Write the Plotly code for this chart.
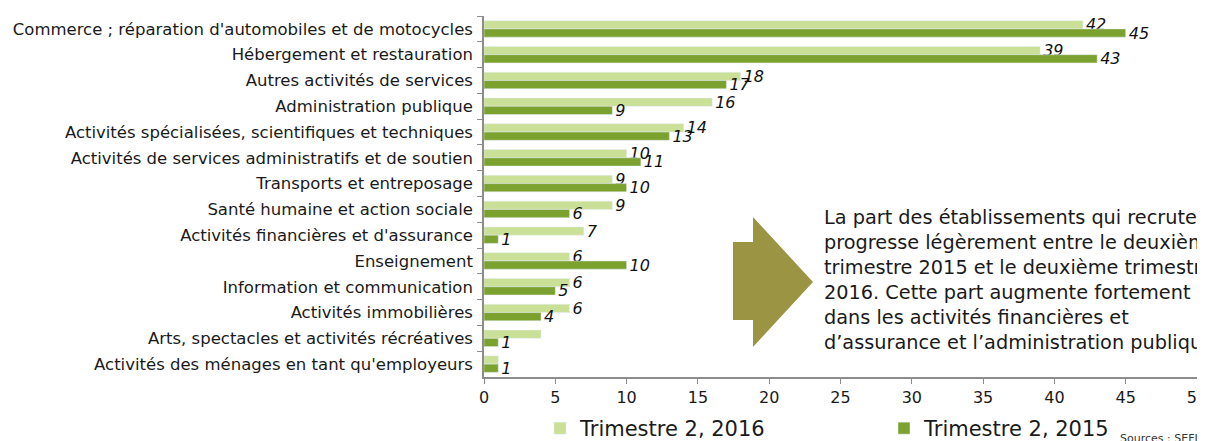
import plotly.graph_objects as go

FONT = "DejaVu Sans, Verdana, sans-serif"
LIGHT = "#C9E096"
DARK = "#7BA22F"
ARROW = "#9A9443"

categories = [
    "Commerce ; réparation d'automobiles et de motocycles",
    "Hébergement et restauration",
    "Autres activités de services",
    "Administration publique",
    "Activités spécialisées, scientifiques et techniques",
    "Activités de services administratifs et de soutien",
    "Transports et entreposage",
    "Santé humaine et action sociale",
    "Activités financières et d'assurance",
    "Enseignement",
    "Information et communication",
    "Activités immobilières",
    "Arts, spectacles et activités récréatives",
    "Activités des ménages en tant qu'employeurs",
]
t2_2016 = [42, 39, 18, 16, 14, 10, 9, 9, 7, 6, 6, 6, 4, 1]
t2_2015 = [45, 43, 17, 9, 13, 11, 10, 6, 1, 10, 5, 4, 1, 1]
# the two smallest 2016 bars carry no label in the original
labels_2016 = [str(v) for v in t2_2016[:-2]] + ["", ""]
labels_2015 = [str(v) for v in t2_2015]
x_ticks = list(range(0, 51, 5))

# the page body has an 8px margin, so the figure starts at (8, 8) in the window
OFF = 8
W, H = 1205 - OFF, 441 - OFF
L, R, T, B = 484 - OFF, 8, 16 - OFF, 64
PW, PH = W - L - R, H - T - B


def px(x):
    return (x - OFF - L) / PW


def py(y):
    return (H - B - (y - OFF)) / PH


fig = go.Figure()
for name, vals, labels, color in [
    ("Trimestre 2, 2016", t2_2016, labels_2016, LIGHT),
    ("Trimestre 2, 2015", t2_2015, labels_2015, DARK),
]:
    fig.add_trace(go.Bar(
        name=name,
        y=categories, x=vals, orientation="h",
        marker_color=color,
        text=labels, textposition="outside", constraintext="none",
        textfont=dict(family=FONT, size=16, color="#111111", style="italic"),
        cliponaxis=False,
    ))

# arrow pointing to the comment
pts = [(733, 242), (753, 242), (753, 217), (813, 282), (753, 347), (753, 320), (733, 320)]
path = "M " + " L ".join(f"{px(a):.4f},{py(b):.4f}" for a, b in pts) + " Z"
fig.add_shape(type="path", path=path, xref="paper", yref="paper",
              fillcolor=ARROW, line=dict(width=0))

comment = ("La part des établissements qui recrutent<br>"
           "progresse légèrement entre le deuxième<br>"
           "trimestre 2015 et le deuxième trimestre<br>"
           "2016. Cette part augmente fortement<br>"
           "dans les activités financières et<br>"
           "d’assurance et l’administration publique")
fig.add_annotation(text=comment, xref="paper", yref="paper",
                   x=px(822), y=py(204), xanchor="left", yanchor="top",
                   align="left", showarrow=False,
                   font=dict(family=FONT, size=19.3, color="#1a1a1a"))
fig.add_annotation(text="Sources : SEFI", xref="paper", yref="paper",
                   x=px(1118), y=py(430), xanchor="left", yanchor="top",
                   showarrow=False, font=dict(family=FONT, size=11, color="#333"))

fig.update_layout(
    width=W, height=H,
    margin=dict(l=L, r=R, t=T, b=B, autoexpand=False),
    paper_bgcolor="white", plot_bgcolor="white",
    font=dict(family=FONT, size=16.5, color="#1a1a1a"),
    barmode="group", bargap=0.36, bargroupgap=0,
    showlegend=True,
    legend=dict(orientation="h", x=px(540), y=py(408), xanchor="left", yanchor="top",
                font=dict(size=21), entrywidth=299, entrywidthmode="pixels",
                itemwidth=30),
)
fig.update_yaxes(autorange="reversed", showline=True, linecolor="#8c8c8c", linewidth=1.5,
                 ticks="outside", tickson="boundaries", ticklen=5, tickcolor="#8c8c8c",
                 tickfont=dict(size=16.5), ticklabelstandoff=6, showgrid=False)
fig.update_xaxes(range=[0, 50], tickvals=x_ticks, showline=True, linecolor="#8c8c8c",
                 linewidth=1.5, ticks="outside", ticklen=5, tickcolor="#8c8c8c",
                 tickfont=dict(size=16), showgrid=False, zeroline=False,
                 ticklabeloverflow="allow")

fig.write_html("out.html")
